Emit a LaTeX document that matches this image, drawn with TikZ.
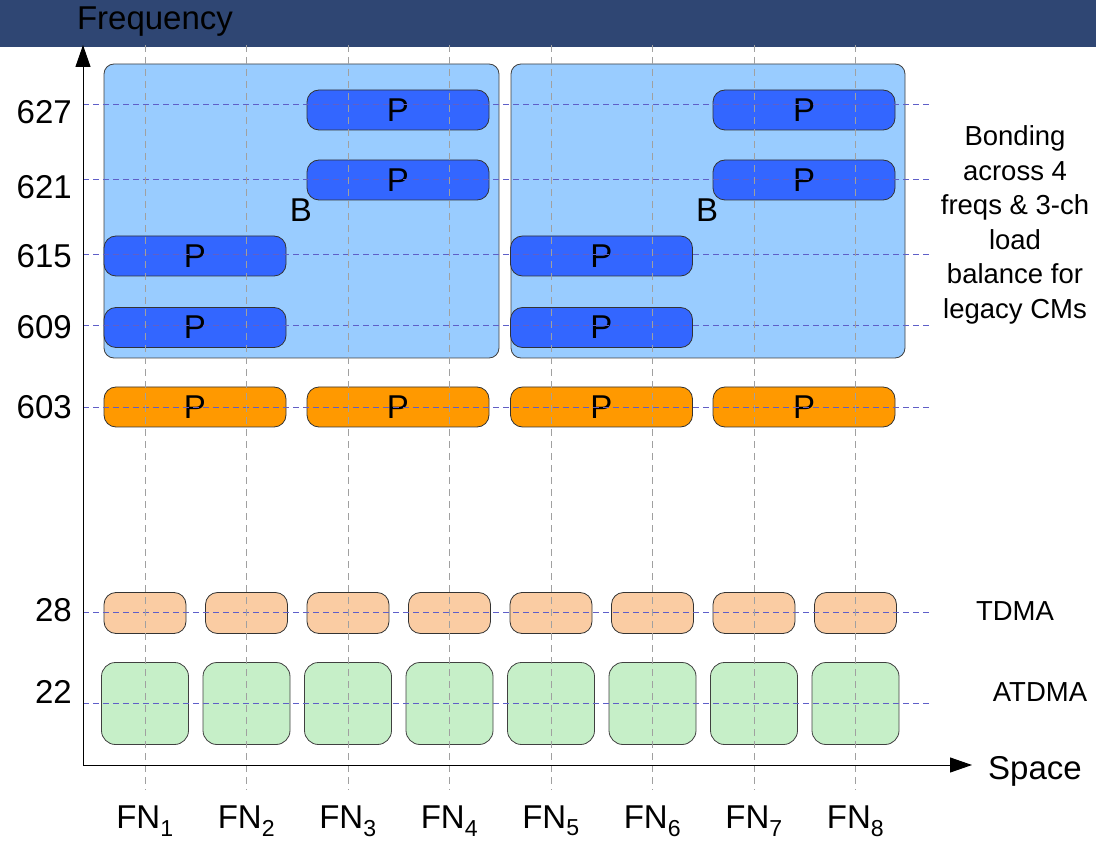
\documentclass[tikz,border=0pt]{standalone}
\usepackage{fontspec}
\setmainfont{Liberation Sans}
\usetikzlibrary{arrows.meta,positioning}

\definecolor{barblue}{RGB}{47,70,115}
\definecolor{bondblue}{RGB}{153,204,255}
\definecolor{pblue}{RGB}{51,102,255}
\definecolor{porange}{RGB}{255,153,0}
\definecolor{tdmapeach}{RGB}{250,204,163}
\definecolor{atdmagreen}{RGB}{198,239,200}
\definecolor{gridblue}{RGB}{95,95,200}
\definecolor{gridgray}{RGB}{160,160,160}

\newcommand{\lblfont}{\fontsize{33}{36}\selectfont}
\newcommand{\notefont}{\fontsize{27.5}{34.5}\selectfont}

\tikzset{
  bondbox/.style={draw=black!75, fill=bondblue, rounded corners=10pt, line width=0.8pt,
    minimum width=395pt, minimum height=294pt, inner sep=0pt},
  pbox/.style={draw=black!80, rounded corners=12pt, line width=0.8pt,
    minimum width=182pt, minimum height=40pt, inner sep=0pt, font=\lblfont},
  tdmabox/.style={draw=black!80, fill=tdmapeach, rounded corners=12pt, line width=0.8pt,
    minimum width=82pt, minimum height=41pt, inner sep=0pt},
  atdmabox/.style={draw=black!75, fill=atdmagreen, rounded corners=14pt, line width=0.8pt,
    minimum width=87pt, minimum height=82pt, inner sep=0pt},
  freqline/.style={gridblue, dashed, dash pattern=on 6pt off 4pt, line width=0.9pt},
  fnline/.style={gridgray, dash pattern=on 7pt off 5pt, line width=0.9pt},
  axis/.style={black, line width=1pt, -{Triangle[length=22pt,width=15pt]}},
  lbl/.style={font=\lblfont, inner sep=0pt}
}

\begin{document}
\begin{tikzpicture}[x=1pt,y=-1pt]
\useasboundingbox (0,0) rectangle (1096,842);
% header bar
\fill [barblue] (0,0) rectangle (1096,47);
\node [lbl] (freq) at (155,22) {Frequency};

% bonding groups
\node [bondbox] (bondL) at (301.5,211) {};
\node [bondbox, minimum width=394pt] (bondR) at (708,211) {};

% primary channels
\node [pbox, fill=pblue] (p627a) at (398,110) {P};
\node [pbox, fill=pblue] (p627b) at (804,110) {P};
\node [pbox, fill=pblue] (p621a) at (398,180) {P};
\node [pbox, fill=pblue] (p621b) at (804,180) {P};
\node [pbox, fill=pblue] (p615a) at (195,256) {P};
\node [pbox, fill=pblue] (p615b) at (601.5,256) {P};
\node [pbox, fill=pblue] (p609a) at (195,327.5) {P};
\node [pbox, fill=pblue] (p609b) at (601.5,327.5) {P};
\node [pbox, fill=porange] (p603a) at (195,407) {P};
\node [pbox, fill=porange] (p603b) at (398,407) {P};
\node [pbox, fill=porange] (p603c) at (601.5,407) {P};
\node [pbox, fill=porange] (p603d) at (804,407) {P};

\node [lbl] (bondA) at (301,210) {B};
\node [lbl] (bondB) at (707,210) {B};

% upstream channels per fiber node
\foreach \i in {1,...,8} {
  \node [tdmabox] (tdma\i) at ({145+101.5*(\i-1)},613) {};
  \node [atdmabox] (atdma\i) at ({145+101.5*(\i-1)},703.5) {};
}

% frequency lines
\foreach \f/\y in {627/104,621/179,615/254,609/325,603/407,28/612,22/703}
  \draw [freqline] (83,\y) -- (932,\y);
\node [lbl, anchor=east] (f627) at (72,112) {627};
\node [lbl, anchor=east] (f621) at (72,187) {621};
\node [lbl, anchor=east] (f615) at (72,256) {615};
\node [lbl, anchor=east] (f609) at (72,327) {609};
\node [lbl, anchor=east] (f603) at (72,407) {603};
\node [lbl, anchor=east] (f28) at (72,610) {28};
\node [lbl, anchor=east] (f22) at (72,692) {22};

% fiber nodes
\foreach \i in {1,...,8} {
  \draw [fnline] ({145+101.5*(\i-1)},45) -- ({145+101.5*(\i-1)},790);
  \node [lbl] (fn\i) at ({145+101.5*(\i-1)},821) {FN\textsubscript{\i}};
}

% axes
\coordinate (origin) at (83,765);
\coordinate (ytip) at (83,45);
\coordinate (xtip) at (972,765);
\draw [axis] (origin) -- (ytip);
\draw [axis] (origin) -- (xtip);
\node [lbl] (space) at (1035,771) {Space};

\node [font=\notefont, align=center, inner sep=0pt] (bondnote) at (1015,225)
  {Bonding\\across 4\\freqs \& 3-ch\\load\\balance for\\legacy CMs};
\node [font=\notefont, inner sep=0pt] (tdmalbl) at (1015,611) {TDMA};
\node [font=\notefont, inner sep=0pt] (atdmalbl) at (1040,692) {ATDMA};
\end{tikzpicture}
\end{document}
